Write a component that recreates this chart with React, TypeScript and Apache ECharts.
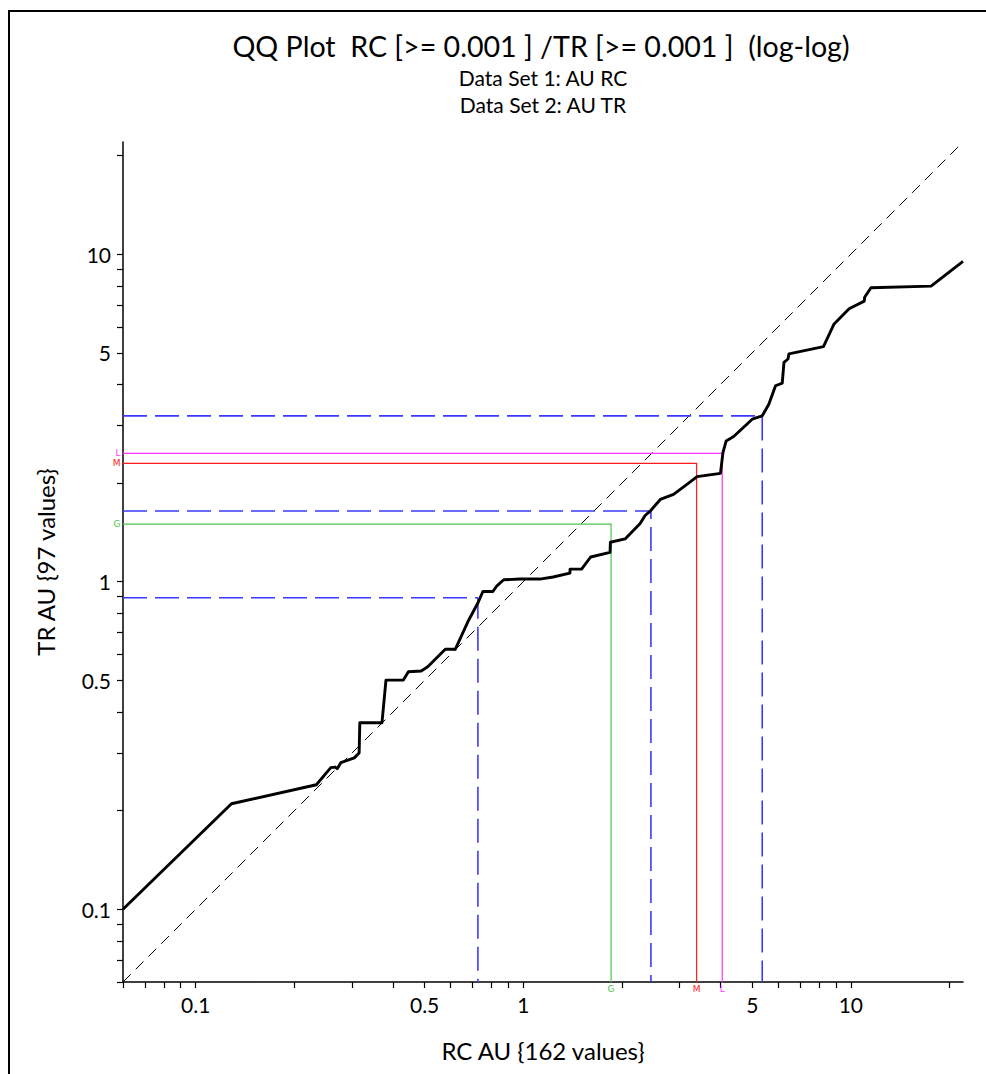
import React, { useEffect, useRef } from "react";
import * as echarts from "echarts";

const FONT = "Lato, 'Open Sans', sans-serif";

const AXIS_MIN = 0.06;
const AXIS_MAX = 22;

// QQ curve: RC quantiles (x) vs TR quantiles (y)
const qqX = [
  0.06, 0.1286, 0.2336, 0.2585, 0.2665, 0.2705, 0.2774, 0.305, 0.3155, 0.317,
  0.3704, 0.381, 0.4305, 0.446, 0.488, 0.511, 0.578, 0.62, 0.678, 0.727,
  0.753, 0.808, 0.831, 0.872, 0.976, 1.123, 1.234, 1.388, 1.39, 1.507,
  1.606, 1.841, 1.845, 2.046, 2.274, 2.355, 2.44, 2.62, 2.876, 3.16,
  3.393, 4.0, 4.07, 4.163, 4.39, 5.0, 5.365, 5.62, 5.89, 6.175,
  6.25, 6.43, 6.47, 8.25, 8.89, 9.88, 10.99, 11.02, 11.52, 17.58, 22.0,
];
const qqY = [
  0.1, 0.21, 0.24, 0.2707, 0.2718, 0.2687, 0.2804, 0.29, 0.3, 0.371,
  0.371, 0.501, 0.501, 0.531, 0.534, 0.55, 0.622, 0.622, 0.756, 0.861,
  0.934, 0.934, 0.972, 1.014, 1.019, 1.019, 1.034, 1.063, 1.093, 1.093,
  1.19, 1.23, 1.32, 1.351, 1.505, 1.593, 1.642, 1.783, 1.847, 1.982,
  2.093, 2.142, 2.479, 2.69, 2.775, 3.134, 3.21, 3.484, 3.966, 4.042,
  4.675, 4.786, 4.96, 5.22, 6.125, 6.81, 7.19, 7.39, 7.9, 7.99, 9.5,
];

// Quartile markers (blue dashed)
const quartileX = [0.727, 2.453, 5.365];
const quartileY = [0.894, 1.645, 3.21];

// Statistic markers G / M / L
const statNames = ["G", "M", "L"];
const statX = [1.854, 3.383, 4.05];
const statY = [1.499, 2.298, 2.466];
const statColors = ["#4cc84c", "#ff1a1a", "#ff33ff"];

const tickValues = [
  0.06, 0.07, 0.08, 0.09, 0.1, 0.2, 0.3, 0.4, 0.5, 0.6, 0.7, 0.8, 0.9, 1, 2, 3,
  4, 5, 6, 7, 8, 9, 10, 20,
];
const labelValues = [0.1, 0.5, 1, 5, 10];

const titleText = "QQ Plot  RC [>= 0.001 ] /TR [>= 0.001 ]  (log-log)";
const subtitleLines = ["Data Set 1: AU RC", "Data Set 2: AU TR"];
const xName = "RC AU {162 values}";
const yName = "TR AU {97 values}";

function makeAxis(name: string, nameGap: number, rotate: number | undefined) {
  return {
    type: "log",
    logBase: 10,
    min: AXIS_MIN,
    max: AXIS_MAX,
    name,
    nameLocation: "middle",
    nameGap,
    nameRotate: rotate,
    nameTextStyle: { fontSize: 24, color: "#000", fontFamily: FONT },
    axisLine: { show: true, onZero: false, lineStyle: { color: "#000", width: 1.5 } },
    axisTick: {
      show: true,
      customValues: tickValues,
      length: 6,
      inside: false,
      lineStyle: { color: "#000", width: 1.2 },
    },
    axisLabel: {
      show: true,
      customValues: labelValues,
      formatter: (v: number) => String(+Number(v).toPrecision(6)),
      color: "#000",
      fontSize: 21,
      fontFamily: FONT,
      margin: 12,
    },
    splitLine: { show: false },
    minorTick: { show: false },
    minorSplitLine: { show: false },
  };
}

export default function App() {
  const ref = useRef<HTMLDivElement>(null);

  useEffect(() => {
    if (!ref.current) return;
    const chart = echarts.init(ref.current, null, { renderer: "svg" });

    const series: any[] = [];

    series.push({
      type: "line",
      data: [
        [AXIS_MIN, AXIS_MIN],
        [AXIS_MAX, AXIS_MAX],
      ],
      symbol: "none",
      silent: true,
      lineStyle: { color: "#000", width: 1, type: [11, 7] },
      z: 1,
    });

    quartileX.forEach((qx, i) => {
      const qy = quartileY[i];
      series.push({
        type: "line",
        data: [
          [AXIS_MIN, qy],
          [qx, qy],
          [qx, AXIS_MIN],
        ],
        symbol: "none",
        silent: true,
        lineStyle: { color: "#3a3aff", width: 1.6, type: [24, 8] },
        z: 2,
      });
    });

    statNames.forEach((nm, i) => {
      const color = statColors[i];
      const lbl = {
        show: true,
        formatter: nm,
        color,
        fontSize: 9,
        fontFamily: "'DejaVu Sans', sans-serif",
      };
      series.push({
        type: "line",
        clip: false,
        silent: true,
        showSymbol: true,
        symbol: "circle",
        symbolSize: 1,
        itemStyle: { color },
        lineStyle: { color, width: 1.2 },
        data: [
          { value: [AXIS_MIN, statY[i]], label: { ...lbl, position: "left", distance: 2 } },
          { value: [statX[i], statY[i]] },
          { value: [statX[i], AXIS_MIN], label: { ...lbl, position: "bottom", distance: 2 } },
        ],
        z: 3,
      });
    });

    series.push({
      type: "line",
      data: qqX.map((x, i) => [x, qqY[i]]),
      symbol: "none",
      silent: true,
      lineStyle: { color: "#000", width: 2.9, join: "round" },
      z: 5,
    });

    chart.setOption({
      animation: false,
      backgroundColor: "#fff",
      grid: { left: 123, top: 142, width: 840, height: 840, containLabel: false },
      xAxis: makeAxis(xName, 56, undefined),
      yAxis: makeAxis(yName, 66, 90),
      graphic: [
        {
          type: "rect",
          shape: { x: 9, y: 11, width: 1000, height: 1100 },
          style: { fill: "none", stroke: "#000", lineWidth: 2 },
          silent: true,
        },
        {
          type: "text",
          x: 541,
          y: 46,
          style: {
            text: titleText,
            textAlign: "center",
            textVerticalAlign: "middle",
            fontSize: 28.6,
            fontFamily: FONT,
            fill: "#000",
          },
        },
        ...subtitleLines.map((t, i) => ({
          type: "text",
          x: 543,
          y: 77 + i * 27,
          style: {
            text: t,
            textAlign: "center",
            textVerticalAlign: "middle",
            fontSize: 21,
            fontFamily: FONT,
            fill: "#000",
          },
        })),
      ],
      series,
    });

    return () => chart.dispose();
  }, []);

  return (
    <div
      ref={ref}
      style={{ position: "absolute", left: 0, top: 0, width: 986, height: 1074 }}
    />
  );
}
